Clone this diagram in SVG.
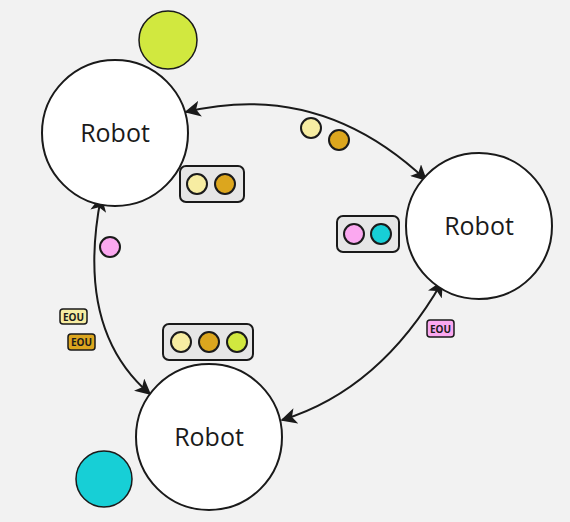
<svg xmlns="http://www.w3.org/2000/svg" width="570" height="522" viewBox="0 0 570 522">
<style>
.robot{fill:#ffffff;stroke:#1a1a1a;stroke-width:2}
.lbl{font-family:"Open Sans","Liberation Sans",sans-serif;font-size:25px;fill:#1a1a1a;text-anchor:middle}
.tok{stroke:#1a1a1a;stroke-width:2}
.box{fill:#e6e6e6;stroke:#1a1a1a;stroke-width:2}
.tag{stroke:#1a1a1a;stroke-width:1.5}
.tagt{font-family:"Open Sans","Liberation Sans",sans-serif;font-size:10px;font-weight:bold;fill:#1a1a1a;text-anchor:middle}
.conn{fill:none;stroke:#1a1a1a;stroke-width:2}
.y{fill:#f7eda2}.g{fill:#dca61e}.l{fill:#d1e83f}.p{fill:#fba8f0}.c{fill:#17cfd6}
</style>
<defs>
<marker id="ahb" viewBox="0 0 10 10" refX="9" refY="5" markerWidth="16" markerHeight="16" markerUnits="userSpaceOnUse" orient="auto-start-reverse">
<path d="M0,0 L10,5 L0,10 L2.5,5 Z" fill="#1a1a1a"/>
</marker>
</defs>
<rect width="570" height="522" fill="#f2f2f2"/>
<g id="connectors">
<path class="conn" d="M186,112 Q320,80 426,180" marker-start="url(#ahb)" marker-end="url(#ahb)"/>
<path class="conn" d="M101,197 Q75,330 150,394" marker-start="url(#ahb)" marker-end="url(#ahb)"/>
<path class="conn" d="M442,282 Q380,390 282,420" marker-start="url(#ahb)" marker-end="url(#ahb)"/>
</g>
<g id="robot1"><circle class="robot" cx="115" cy="133" r="73"/><text class="lbl" x="115" y="142">Robot</text></g>
<g id="robot2"><circle class="robot" cx="479" cy="226" r="73"/><text class="lbl" x="479" y="235">Robot</text></g>
<g id="robot3"><circle class="robot" cx="209" cy="437" r="73"/><text class="lbl" x="209" y="446">Robot</text></g>
<g id="green-ball"><circle cx="168" cy="40" r="29" class="l" stroke="#1a1a1a" stroke-width="1.5"/></g>
<g id="cyan-ball"><circle cx="104" cy="479" r="28" class="c" stroke="#1a1a1a" stroke-width="1.5"/></g>
<g id="tokens-top"><circle class="tok y" cx="311" cy="128" r="10"/><circle class="tok g" cx="339" cy="140" r="10"/></g>
<g id="token-pink"><circle class="tok p" cx="110" cy="247" r="10"/></g>
<g id="box1"><rect class="box" x="180" y="166" width="64" height="36" rx="6"/><circle class="tok y" cx="197" cy="184" r="10"/><circle class="tok g" cx="225" cy="184" r="10"/></g>
<g id="box2"><rect class="box" x="337" y="216" width="62" height="36" rx="6"/><circle class="tok p" cx="354" cy="234" r="10"/><circle class="tok c" cx="381" cy="234" r="10"/></g>
<g id="box3"><rect class="box" x="163" y="324" width="90" height="36" rx="6"/><circle class="tok y" cx="181" cy="342" r="10"/><circle class="tok g" cx="209" cy="342" r="10"/><circle class="tok l" cx="237" cy="342" r="10"/></g>
<g id="eou1"><rect class="tag y" x="60" y="309" width="27" height="15" rx="3"/><text class="tagt" x="73.5" y="320.5">EOU</text></g>
<g id="eou2"><rect class="tag g" x="68" y="334" width="27" height="16" rx="3"/><text class="tagt" x="81.5" y="346">EOU</text></g>
<g id="eou3"><rect class="tag p" x="427" y="320" width="27" height="17" rx="3"/><text class="tagt" x="440.5" y="332.5">EOU</text></g>
</svg>
